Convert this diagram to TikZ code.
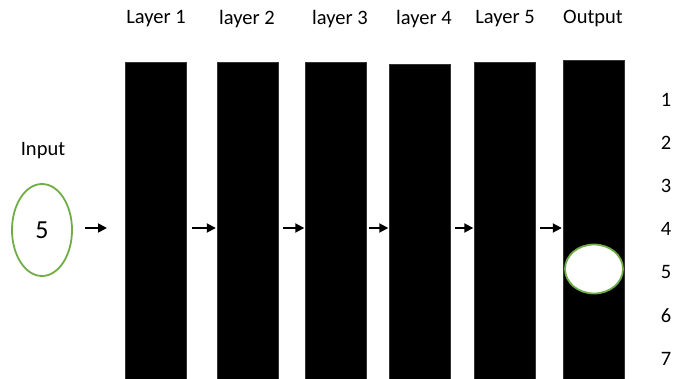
\documentclass[tikz,border=0pt]{standalone}
\usepackage{fontspec}
\setmainfont{Carlito}
\usetikzlibrary{arrows.meta}
\definecolor{ellgreen}{HTML}{70AD47}
\begin{document}
\begin{tikzpicture}[x=1pt,y=-1pt,
  bar/.style={draw=black!80,fill=black,line width=0.4pt,minimum width=61pt,inner sep=0pt,anchor=north},
  lbl/.style={font=\fontsize{20.5}{24}\selectfont,inner sep=0pt},
  num/.style={font=\fontsize{20.5}{24}\selectfont,inner sep=0pt},
  conn/.style={line width=1.8pt,-{Triangle[length=9pt,width=9pt]},shorten >=1pt},
  ell/.style={draw=ellgreen,line width=1.8pt,ellipse,inner sep=0pt}]
\useasboundingbox (0,0) rectangle (674,379);
% bars
\node[bar,minimum height=317pt] (L1) at (155.5,62) {};
\node[bar,minimum height=317pt] (L2) at (247.5,62) {};
\node[bar,minimum height=317pt] (L3) at (336,62) {};
\node[bar,minimum height=315pt] (L4) at (420,64) {};
\node[bar,minimum height=317pt] (L5) at (505,62) {};
\node[bar,minimum height=319pt] (OUT) at (593.5,60) {};
% labels
\node[lbl] (t1) at (156,19) {Layer 1};
\node[lbl] (t2) at (247,19) {layer 2};
\node[lbl] (t3) at (340,19) {layer 3};
\node[lbl] (t4) at (424,19) {layer 4};
\node[lbl] (t5) at (505,19) {Layer 5};
\node[lbl] (t6) at (593,19) {Output};
% input
\node[lbl] (inlbl) at (43,151) {Input};
\draw[draw=ellgreen,line width=1.8pt] (42,230) ellipse [x radius=30, y radius=46];
\node[font=\fontsize{26}{30}\selectfont,inner sep=0pt] (five) at (42,230) {5};
% output ellipse
\draw[draw=ellgreen,fill=white,line width=1.8pt] (594,269) ellipse [x radius=29, y radius=24.5];
% row numbers
\foreach \i/\yy in {1/100,2/143,3/186,4/229,5/272,6/316,7/359}
  \node[num] (n\i) at (666,\yy) {\i};
% arrows
\coordinate (s1) at (85,228);
\coordinate (e1) at (108,228);
\coordinate (s2) at (192,228);
\coordinate (s3) at (283,228);
\coordinate (s4) at (369,228);
\coordinate (s5) at (455,228);
\coordinate (s6) at (540,228);
\draw[conn] (s1) -- (e1);
\draw[conn] (s2) -- (L2.west |- s2);
\draw[conn] (s3) -- (L3.west |- s3);
\draw[conn] (s4) -- (L4.west |- s4);
\draw[conn] (s5) -- (L5.west |- s5);
\draw[conn] (s6) -- (OUT.west |- s6);
\end{tikzpicture}
\end{document}
